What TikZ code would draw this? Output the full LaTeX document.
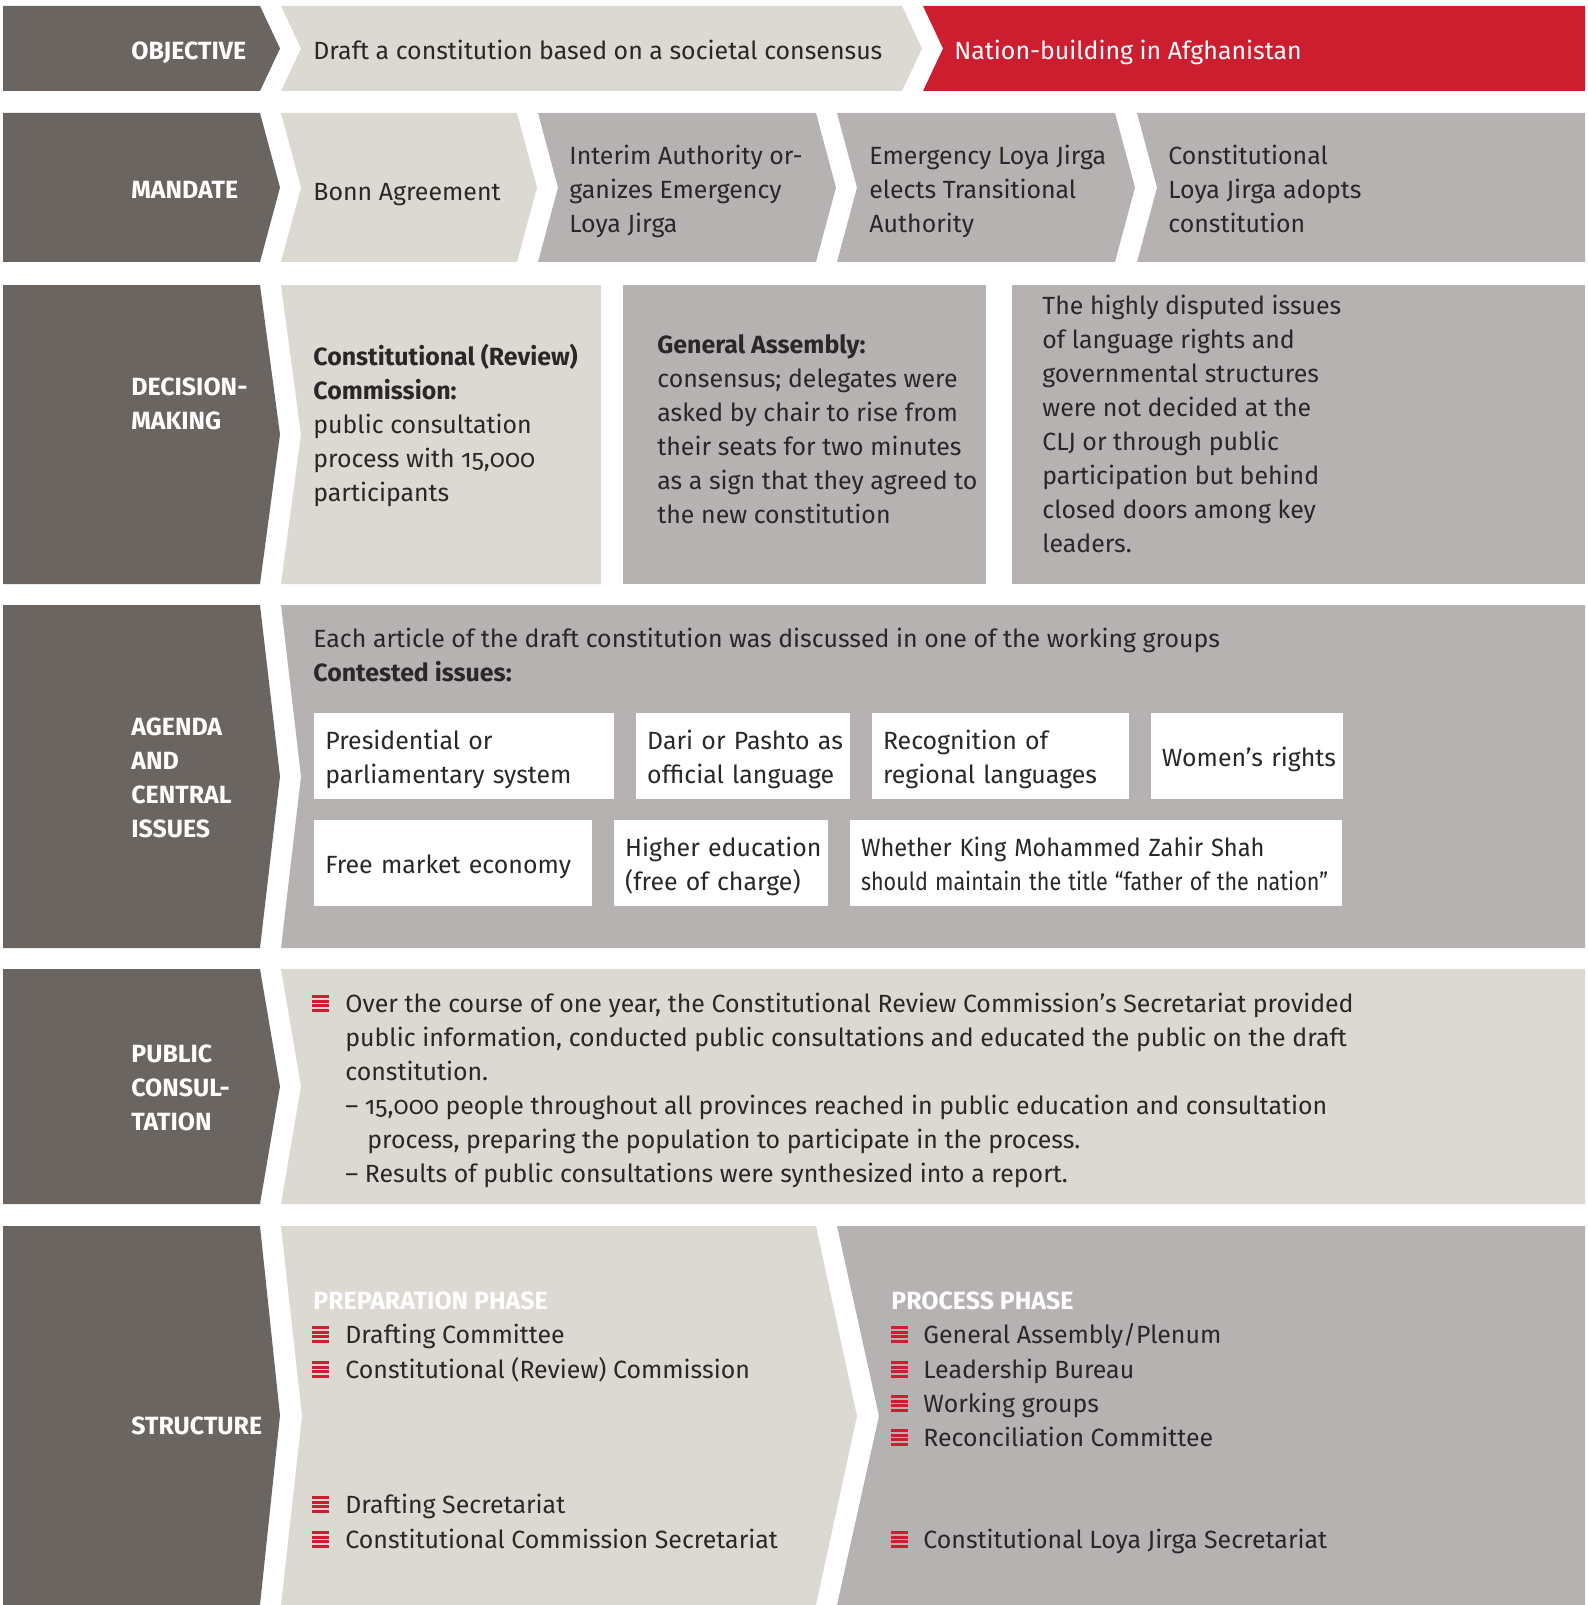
\documentclass[tikz,border=0pt]{standalone}
\usepackage{fontspec}
\setmainfont{Fira Sans}[Numbers=OldStyle]
\usetikzlibrary{positioning}
\definecolor{darkgrey}{HTML}{6B6562}
\definecolor{beige}{HTML}{DBD9D1}
\definecolor{midgrey}{HTML}{B6B2B1}
\definecolor{cbred}{HTML}{CC1E2F}
\definecolor{ink}{HTML}{2B2728}
\newcommand{\bodyfont}{\fontsize{12.45}{17}\selectfont}
\tikzstyle{rowlabel} = [anchor=west, inner sep=0pt, align=left, text=white, font=\bodyfont\bfseries, execute at begin node=\strut, execute at end node=\strut]
\tikzstyle{body} = [anchor=west, inner sep=0pt, align=left, text=ink, font=\bodyfont, execute at begin node=\strut, execute at end node=\strut]
\tikzstyle{issue} = [rectangle, anchor=north west, fill=white, minimum height=43pt, inner xsep=5.5pt, inner ysep=0pt, align=left, text=ink, font=\bodyfont, execute at begin node={\hyphenpenalty=10000\rule{0pt}{14.9pt}}, execute at end node=\strut]
\tikzset{redbullet/.pic={\foreach \s in {0,4.67,9.33,14} \fill[cbred] (0,\s-8.5) rectangle (17,\s-5.5);}}

\begin{document}
\begin{tikzpicture}[x=0.5pt, y=-0.5pt, node distance=10.5pt]
    \useasboundingbox (0,0) rectangle (1588,1605);

    % label column
    \foreach \t/\b in {6/91, 113/262, 285/584, 605/948, 969/1204, 1226/1605}
        \fill[darkgrey] (3,\t) -- (260,\t) -- (280,{(\t+\b)/2}) -- (260,\b) -- (3,\b) -- cycle;

    % objective
    \fill[beige] (281,6) -- (902,6) -- (922,48.5) -- (902,91) -- (281,91) -- (301,48.5) -- cycle;
    \fill[cbred] (923,6) -- (1585,6) -- (1585,91) -- (923,91) -- (943,48.5) -- cycle;
    \node (objective) [rowlabel] at (131,53) {OBJECTIVE};
    \node (draft) [body] at (313,53) {Draft a constitution based on a societal consensus};
    \node (nation) [body, text=white] at (954,53) {Nation-building in Afghanistan};

    % mandate
    \fill[beige] (281,113) -- (517,113) -- (537,187.5) -- (517,262) -- (281,262) -- (301,187.5) -- cycle;
    \fill[midgrey] (538,113) -- (816,113) -- (836,187.5) -- (816,262) -- (538,262) -- (558,187.5) -- cycle;
    \fill[midgrey] (837,113) -- (1115,113) -- (1135,187.5) -- (1115,262) -- (837,262) -- (857,187.5) -- cycle;
    \fill[midgrey] (1137,113) -- (1585,113) -- (1585,262) -- (1137,262) -- (1157,187.5) -- cycle;
    \node (mandate) [rowlabel] at (131,191.5) {MANDATE};
    \node (bonn) [body] at (313,193.5) {Bonn Agreement};
    \node (interim) [body] at (569,193.5) {Interim Authority or-\\ganizes Emergency\\Loya Jirga};
    \node (emergency) [body] at (869,193.5) {Emergency Loya Jirga\\elects Transitional\\Authority};
    \node (adopts) [body] at (1168,193.5) {Constitutional\\Loya Jirga adopts\\constitution};

    % decision-making
    \fill[beige] (281,285) -- (601,285) -- (601,584) -- (281,584) -- (301,434.5) -- cycle;
    \fill[midgrey] (623,285) rectangle (986,584);
    \fill[midgrey] (1012,285) rectangle (1585,584);
    \node (decision) [rowlabel] at (131,409) {DECISION-\\MAKING};
    \node (commission) [body] at (313,428) {{\bfseries Constitutional (Review)}\\{\bfseries Commission:}\\public consultation\\process with 15,000\\participants};
    \node (assembly) [body] at (657,434) {{\bfseries General Assembly:}\\consensus; delegates were\\asked by chair to rise from\\their seats for two minutes\\as a sign that they agreed to\\the new constitution};
    \node (disputed) [body] at (1042,428.5) {The highly disputed issues\\of language rights and\\governmental structures\\were not decided at the\\CLJ or through public\\participation but behind\\closed doors among key\\leaders.};

    % agenda and central issues
    \fill[midgrey] (281,605) -- (1585,605) -- (1585,948) -- (281,948) -- (301,776.5) -- cycle;
    \node (agenda) [rowlabel] at (131,783) {AGENDA\\AND\\CENTRAL\\ISSUES};
    \node (article) [body] at (313,660) {Each article of the draft constitution was discussed in one of the working groups\\{\bfseries Contested issues:}};
    \node (system) [issue, text width=139pt] at (314,713) {Presidential~or\\parliamentary~system};
    \node (language) [issue, text width=96pt, right=of system] {Dari~or~Pashto~as\\official~language};
    \node (regional) [issue, text width=117.5pt, right=of language] {Recognition~of\\regional~languages};
    \node (women) [issue, text width=85pt, right=of regional] {Women’s~rights};
    \node (market) [issue, text width=128pt] at (314,820) {Free~market~economy};
    \node (education) [issue, text width=96pt, right=of market] {Higher~education\\(free~of~charge)};
    \node (king) [issue, text width=235pt, right=of education] {\scalebox{0.95}[1]{Whether King Mohammed Zahir Shah}\\\scalebox{0.865}[1]{should maintain the title “father of the nation”}};

    % public consultation
    \fill[beige] (281,969) -- (1585,969) -- (1585,1204) -- (281,1204) -- (301,1086.5) -- cycle;
    \node (public) [rowlabel] at (131,1092.5) {PUBLIC\\CONSUL-\\TATION};
    \pic at (312,1003.5) {redbullet};
    \node (secretariat) [body] at (345,1092.5) {Over the course of one year, the Constitutional Review Commission’s Secretariat provided\\public information, conducted public consultations and educated the public on the draft\\constitution.\\– 15,000 people throughout all provinces reached in public education and consultation\\\hspace*{11pt}process, preparing the population to participate in the process.\\– Results of public consultations were synthesized into a report.};

    % structure
    \fill[beige] (281,1226) -- (816,1226) -- (857,1416) -- (816,1605) -- (281,1605) -- (302,1416) -- cycle;
    \fill[midgrey] (837,1226) -- (1585,1226) -- (1585,1605) -- (837,1605) -- (879,1416) -- cycle;
    \node (structure) [rowlabel] at (131,1428) {STRUCTURE};
    \node (prephead) [rowlabel] at (313,1303) {PREPARATION PHASE};
    \node (prochead) [rowlabel] at (891,1303) {PROCESS PHASE};
    \foreach \y/\name/\txt in {1334/drafting/Drafting Committee, 1369/review/Constitutional (Review) Commission, 1504/draftsec/Drafting Secretariat, 1539/commsec/Constitutional Commission Secretariat} {
        \pic at (312,\y+0.5) {redbullet};
        \node (\name) [body] at (345,\y+3) {\txt};
    }
    \foreach \y/\name/\txt in {1334/plenum/{General Assembly/Plenum}, 1369/bureau/Leadership Bureau, 1403/groups/Working groups, 1437/reconcile/Reconciliation Committee, 1539/cljsec/Constitutional Loya Jirga Secretariat} {
        \pic at (891,\y+0.5) {redbullet};
        \node (\name) [body] at (923,\y+3) {\txt};
    }
\end{tikzpicture}
\end{document}
